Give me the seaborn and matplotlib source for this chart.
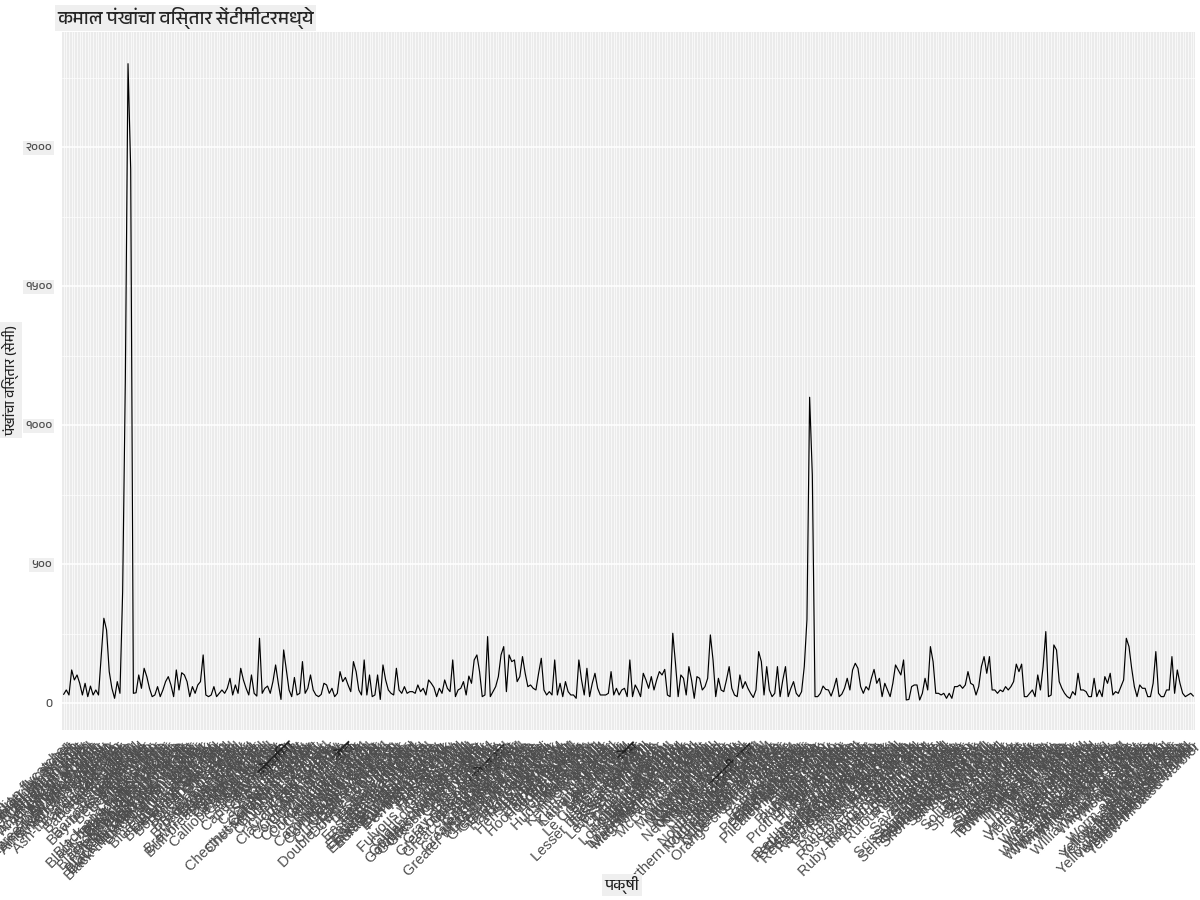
import matplotlib
matplotlib.use("Agg")

import matplotlib.pyplot as plt
from matplotlib import font_manager
import numpy as np
import pandas as pd
import seaborn as sns

TITLE = "कमाल पंखांचा विस्तार सेंटीमीटरमध्ये"
Y_LABEL = "पंखांचा विस्तार (सेमी)"
X_LABEL = "पक्षी"

Y_TICKS = [0, 500, 1000, 1500, 2000]
Y_TICK_LABELS = ["0", "५००", "१०००", "१५००", "२०००"]
Y_MINOR = [250, 750, 1250, 1750, 2250]

BIRDS = [
    "Acadian flycatcher", "Alder flycatcher", "American avocet", "American bittern",
    "American black duck", "American coot", "American crow", "American golden-plover",
    "American goldfinch", "American kestrel", "American pipit", "American redstart",
    "American robin", "American three-toed woodpecker", "American tree sparrow",
    "American white pelican", "American wigeon", "American woodcock", "Anhinga",
    "Arctic tern", "Ash-throated flycatcher", "Baird's sandpiper", "Bald eagle",
    "Baltimore oriole", "Band-tailed pigeon", "Bank swallow", "Barn owl", "Barn swallow",
    "Barred owl", "Barrow's goldeneye", "Bay-breasted warbler", "Bell's vireo",
    "Belted kingfisher", "Bewick's wren", "Black scoter", "Black tern", "Black vulture",
    "Black-and-white warbler", "Black-backed woodpecker", "Black-bellied plover",
    "Black-billed cuckoo", "Black-billed magpie", "Black-capped chickadee",
    "Black-crowned night-heron", "Black-headed grosbeak", "Black-legged kittiwake",
    "Black-necked stilt", "Black-throated blue warbler", "Black-throated gray warbler",
    "Black-throated green warbler", "Blackburnian warbler", "Blackpoll warbler",
    "Blue grosbeak", "Blue jay", "Blue-gray gnatcatcher", "Blue-headed vireo",
    "Blue-winged teal", "Blue-winged warbler", "Bobolink", "Bohemian waxwing",
    "Bonaparte's gull", "Boreal chickadee", "Boreal owl", "Brant", "Brewer's blackbird",
    "Brewer's sparrow", "Broad-winged hawk", "Brown creeper", "Brown thrasher",
    "Brown-headed cowbird", "Bufflehead", "Buff-breasted sandpiper", "Bullock's oriole",
    "Burrowing owl", "Cackling goose", "California gull", "Calliope hummingbird",
    "Canada goose", "Canada jay", "Canada warbler", "Canvasback", "Canyon wren",
    "Cape May warbler", "Carolina wren", "चोसिमा", "Cassin's finch",
    "Cassin's sparrow", "Cattle egret", "Cave swallow", "Cedar waxwing",
    "Cerulean warbler", "Chestnut-collared longspur", "Chestnut-sided warbler",
    "Chimney swift", "Chipping sparrow", "Chuck-will's-widow", "Chukar", "Cinnamon teal",
    "Clark's grebe", "Clark's nutcracker", "Clay-colored sparrow", "Cliff swallow",
    "Common eider", "Common gallinule", "Common goldeneye", "Common grackle",
    "डोव", "Common loon", "Common merganser", "Common murre",
    "Common nighthawk", "Common poorwill", "Common raven", "Common redpoll",
    "Common tern", "Common yellowthroat", "Connecticut warbler", "Cooper's hawk",
    "Cordilleran flycatcher", "Couch's kingbird", "Crested caracara",
    "Curve-billed thrasher", "Dark-eyed junco", "Dickcissel", "Double-crested cormorant",
    "Downy woodpecker", "Dunlin", "Dusky flycatcher", "Eared grebe", "Eastern bluebird",
    "Eastern kingbird", "Eastern meadowlark", "Eastern phoebe", "Eastern screech-owl",
    "Eastern towhee", "Eastern whip-poor-will", "Eastern wood-pewee",
    "Eurasian collared-dove", "Eurasian tree sparrow", "Eurasian wigeon",
    "European starling", "Evening grosbeak", "Ferruginous hawk", "Field sparrow",
    "Fish crow", "Forster's tern", "Fox sparrow", "Franklin's gull",
    "Fulvous whistling-duck", "Gadwall", "Glaucous gull", "Glaucous-winged gull",
    "Glossy ibis", "Golden eagle", "Golden-crowned kinglet", "Golden-crowned sparrow",
    "Golden-winged warbler", "Grasshopper sparrow", "Gray catbird", "Gray flycatcher",
    "Gray jay", "Gray partridge", "Gray-cheeked thrush", "(गोल्डन",
    "Great black-backed gull", "Great blue heron", "Great cormorant",
    "Great crested flycatcher", "Great egret", "Great gray owl", "Great horned owl",
    "Great-tailed grackle", "Greater prairie-chicken", "Greater scaup",
    "Greater white-fronted goose", "Greater yellowlegs", "Green heron",
    "Green-tailed towhee", "Green-winged teal", "Groove-billed ani", "Gyrfalcon",
    "Hairy woodpecker", "Harlequin duck", "Harris's sparrow", "Hawk owl",
    "Henslow's sparrow", "Hermit thrush", "Hermit warbler", "Herring gull",
    "Hoary redpoll", "Hooded merganser", "Hooded warbler", "Horned grebe", "Horned lark",
    "House finch", "House sparrow", "House wren", "Hudsonian godwit", "Iceland gull",
    "Indigo bunting", "Ivory gull", "Kentucky warbler", "Killdeer", "King eider",
    "King rail", "Kirtland's warbler", "Lapland longspur", "Lark bunting",
    "Lark sparrow", "Laughing gull", "Lazuli bunting", "Le Conte's sparrow",
    "जेस", "Least flycatcher", "Least sandpiper", "Least tern",
    "Lesser black-backed gull", "Lesser goldfinch", "Lesser nighthawk", "Lesser scaup",
    "Lesser yellowlegs", "Lewis's woodpecker", "Limpkin", "Lincoln's sparrow",
    "Little blue heron", "Little gull", "Loggerhead shrike", "Long-billed curlew",
    "Long-billed dowitcher", "Long-eared owl", "Long-tailed duck", "Long-tailed jaeger",
    "Louisiana waterthrush", "MacGillivray's warbler", "Magnificent frigatebird",
    "Magnolia warbler", "Mallard", "Marbled godwit", "Marsh wren", "McCown's longspur",
    "Merlin", "Mew gull", "Mississippi kite", "Mountain bluebird", "Mountain plover",
    "Mourning dove", "Mourning warbler", "Mute swan", "Nashville warbler",
    "Nelson's sparrow", "Neotropic cormorant", "Northern bobwhite", "Northern cardinal",
    "Northern flicker", "Northern gannet", "उत्तरी एन", "Northern harrier",
    "Northern hawk owl", "Northern mockingbird", "Northern parula", "Northern pintail",
    "Northern rough-winged swallow", "Northern saw-whet owl", "Northern shoveler",
    "Northern shrike", "Northern waterthrush", "Northern wheatear",
    "Olive-sided flycatcher", "Orange-crowned warbler", "Orchard oriole", "Osprey",
    "Ovenbird", "Pacific loon", "Painted bunting", "Palm warbler", "Parasitic jaeger",
    "Pectoral sandpiper", "Peregrine falcon", "Philadelphia vireo", "Pied-billed grebe",
    "Pileated woodpecker", "Pine grosbeak", "Pine siskin", "Pine warbler", "Pinyon jay",
    "Piping plover", "Plumbeous vireo", "Pomarine jaeger", "Prairie falcon",
    "Prairie warbler", "Prothonotary warbler", "Purple finch", "Purple gallinule",
    "Purple martin", "Purple sandpiper", "Red crossbill", "Red knot", "Red phalarope",
    "Red-bellied woodpecker", "Red-breasted merganser", "Red-breasted nuthatch",
    "Red-eyed vireo", "Red-headed woodpecker", "Red-necked grebe", "Red-necked phalarope",
    "Red-shouldered hawk", "Red-tailed hawk", "Red-throated loon", "Red-winged blackbird",
    "Redhead", "Ring-billed gull", "Ring-necked duck", "Ring-necked pheasant",
    "Rock pigeon", "Rock wren", "Rose-breasted grosbeak", "Ross's goose", "Ross's gull",
    "Rough-legged hawk", "Royal tern", "Ruby-crowned kinglet",
    "Ruby-throated hummingbird", "Ruddy duck", "Ruddy turnstone", "Ruff",
    "Ruffed grouse", "Rufous hummingbird", "Rusty blackbird", "Sabine's gull",
    "Sage thrasher", "Sanderling", "Sandhill crane", "Savannah sparrow", "Say's phoebe",
    "Scarlet tanager", "Scissor-tailed flycatcher", "Sedge wren", "Semipalmated plover",
    "Semipalmated sandpiper", "Sharp-shinned hawk", "Sharp-tailed grouse",
    "Short-billed dowitcher", "Short-eared owl", "Slaty-backed gull", "Smith's longspur",
    "Snow bunting", "Snow goose", "Snowy egret", "Snowy owl", "Snowy plover",
    "Solitary sandpiper", "Song sparrow", "Sora", "Spotted sandpiper", "Spotted towhee",
    "Sprague's pipit", "Spruce grouse", "Steller's jay", "Stilt sandpiper",
    "Summer tanager", "Surf scoter", "Swainson's hawk", "Swainson's thrush",
    "Swallow-tailed kite", "Swamp sparrow", "Townsend's solitaire", "Townsend's warbler",
    "Tree swallow", "Tricolored heron", "Trumpeter swan", "Tufted titmouse",
    "Tundra swan", "Turkey vulture", "Upland sandpiper", "Varied thrush", "Veery",
    "Vermilion flycatcher", "Vesper sparrow", "Violet-green swallow", "Virginia rail",
    "Warbling vireo", "Western bluebird", "Western grebe", "Western kingbird",
    "Western meadowlark", "Western sandpiper", "Western tanager", "Western wood-pewee",
    "Whimbrel", "White-crowned sparrow", "White-eyed vireo", "White-faced ibis",
    "White-rumped sandpiper", "White-throated sparrow", "White-winged crossbill",
    "White-winged dove", "White-winged scoter", "Whooping crane", "Wild turkey",
    "Willet", "Williamson's sapsucker", "Willow flycatcher", "Wilson's phalarope",
    "Wilson's snipe", "Wilson's warbler", "Winter wren", "Wood duck", "Wood stork",
    "Wood thrush", "Worm-eating warbler", "Yellow rail", "Yellow warbler",
    "Yellow-bellied flycatcher", "Yellow-bellied sapsucker", "Yellow-billed cuckoo",
    "Yellow-billed loon", "Yellow-breasted chat", "Yellow-crowned night-heron",
    "Yellow-headed blackbird", "Yellow-rumped warbler", "Yellow-throated vireo",
    "Yellow-throated warbler",
]

# max wingspan (cm) left to right
WINGSPAN = [
    31, 47, 29, 119, 83, 101, 71, 29, 71, 23, 61, 29, 47, 29, 167, 305, 263, 113, 53, 17,
    77, 35,
    400, 1160, 2300, 1920,
    35, 37, 101, 53, 125, 95, 53, 23, 29, 59, 23, 47, 77, 95, 65, 23, 119, 47, 109, 101,
    77, 23, 59, 35, 65, 77, 173, 29, 23, 29, 59, 23, 35, 47, 35, 53, 89, 29, 65, 35,
    125, 83,
    53, 29, 101, 35, 25, 233, 35, 53, 61, 35, 77, 137, 71, 13, 191, 119, 47, 23, 92, 29,
    35, 149, 35, 53, 101, 47, 29, 23, 31, 71, 65, 35, 53, 23, 35, 113, 77, 92, 65, 41,
    149, 113, 47, 29, 155, 29, 101, 23, 29, 101, 13, 137, 83, 47, 35, 29, 125, 47, 35, 59,
    35, 41, 41, 35, 65, 41, 53, 29, 83, 71, 56, 23,
    53, 35, 83, 53, 41, 155, 23, 47, 53, 77, 29, 97, 71, 155, 173, 113, 23, 29, 239, 23,
    41, 59, 95, 173, 203, 41, 173, 149, 155, 77, 95, 167, 107, 59, 65, 53, 47, 107, 161, 47,
    29, 41, 29, 155, 29, 71, 23, 77, 41, 29, 29, 17, 155, 83, 29, 125, 23, 71, 107, 53,
    29, 29, 29, 35, 113, 29, 53, 29,
    47, 53, 23, 155, 23, 65, 47, 23, 107, 83, 53, 95, 47, 83, 113, 101, 121, 29, 23, 251,
    143, 23, 101, 89, 29, 131, 83, 17, 95, 89, 47, 59, 89, 245, 155, 23, 89, 47, 41, 83,
    131, 53, 29, 23, 101, 53, 77, 53, 35, 20, 47, 185, 149, 29, 131, 47, 23, 35, 131, 23,
    83, 131, 23, 53, 77, 35, 23, 41, 131, 300, 1100, 820,
    23, 23, 35, 61, 49, 47, 25, 53, 89, 23, 32, 53, 89, 47, 119, 143, 125, 59, 35, 59,
    47, 89, 121, 71, 89, 23, 71, 47, 23, 71, 137, 119, 101, 155, 11, 13, 59, 65, 65, 11,
    35, 89, 47, 203, 149, 35, 35, 29, 35, 17, 35, 17, 59, 59, 65, 53, 65, 113, 71, 65,
    29, 59, 131, 167, 107, 167, 47, 47, 35, 47, 41, 59, 47, 59, 77, 140, 113, 140, 23, 23,
    35, 47, 23, 101, 47, 131, 257, 23, 29, 209, 191, 77, 53, 35, 23, 17, 41, 29, 107, 47,
    47, 41, 23, 23, 89, 23, 47, 23, 95, 71, 107, 29, 41, 35, 59, 83, 233, 203, 125, 59,
    23, 65, 53, 53, 23, 23, 71, 185, 35, 23, 23, 47, 47, 167, 35, 119, 71, 35, 23, 29,
    35, 25,
]

assert len(BIRDS) == len(WINGSPAN), f"birds={len(BIRDS)} wingspan={len(WINGSPAN)}"

sns.set_theme(style="darkgrid", rc={
    "axes.facecolor": "#EBEBEB",
    "figure.facecolor": "white",
    "grid.color": "white",
})

deva = [f.name for f in font_manager.fontManager.ttflist if "Devanagari" in f.name]
deva_family = deva[0] if deva else "Noto Sans"
plt.rcParams["font.family"] = ["Liberation Sans", deva_family, "DejaVu Sans"]
deva_fonts = [deva_family, "Noto Sans", "DejaVu Sans"]
label_box = dict(facecolor="#EFEFEF", edgecolor="none", pad=1.5)

df = pd.DataFrame({"bird": BIRDS, "wingspan": WINGSPAN})
df["pos"] = np.arange(len(df))
n = len(df)

fig = plt.figure(figsize=(12, 9), dpi=100)
ax = fig.add_axes([62 / 1200, 1 - 730 / 900, 1133 / 1200, 698 / 900])

sns.lineplot(data=df, x="pos", y="wingspan", color="black", linewidth=0.85,
             estimator=None, ax=ax)

ax.set_xlim(-0.6, n - 0.4)
ax.set_ylim(-97, 2414)

ax.set_xticks(df["pos"])
ax.set_xticklabels(df["bird"], rotation=45, ha="right", rotation_mode="anchor",
                   fontsize=10.5, color="#4D4D4D")
# the Marathi names are drawn a bit larger and darker in the reference
for t in ax.get_xticklabels():
    if any("\u0900" <= ch <= "\u097f" for ch in t.get_text()):
        t.set_fontsize(12)
        t.set_color("#222222")

ax.set_yticks(Y_TICKS)
ax.set_yticklabels(Y_TICK_LABELS, fontsize=9, color="#4D4D4D", family=deva_fonts)
ax.set_yticks(Y_MINOR, minor=True)
for t in ax.get_yticklabels()[1:]:
    t.set_bbox(label_box)

ax.tick_params(axis="x", which="major", length=4, width=0.8, color="#333333", pad=3)
ax.tick_params(axis="y", which="major", length=4, width=0.8, color="#333333", pad=3)
ax.tick_params(axis="y", which="minor", length=0)

ax.grid(False)
ax.grid(axis="x", which="major", color="white", linewidth=0.5)
ax.grid(axis="y", which="major", color="white", linewidth=1.1)
ax.grid(axis="y", which="minor", color="white", linewidth=0.5)
ax.set_axisbelow(True)
for s in ax.spines.values():
    s.set_visible(False)

ax.set_xlabel("")
ax.set_ylabel("")
fig.text(57 / 1200, 1 - 18 / 900, TITLE, fontsize=13.5, ha="left", va="center",
         family=deva_fonts, bbox=label_box)
fig.text(11 / 1200, 1 - 380 / 900, Y_LABEL, fontsize=10, rotation=90, ha="center",
         va="center", family=deva_fonts, color="#222222", bbox=label_box)
fig.text(622 / 1200, 1 - 885 / 900, X_LABEL, fontsize=11, ha="center", va="center",
         family=deva_fonts, color="#222222", bbox=label_box)

fig.savefig("out.png", dpi=100)
